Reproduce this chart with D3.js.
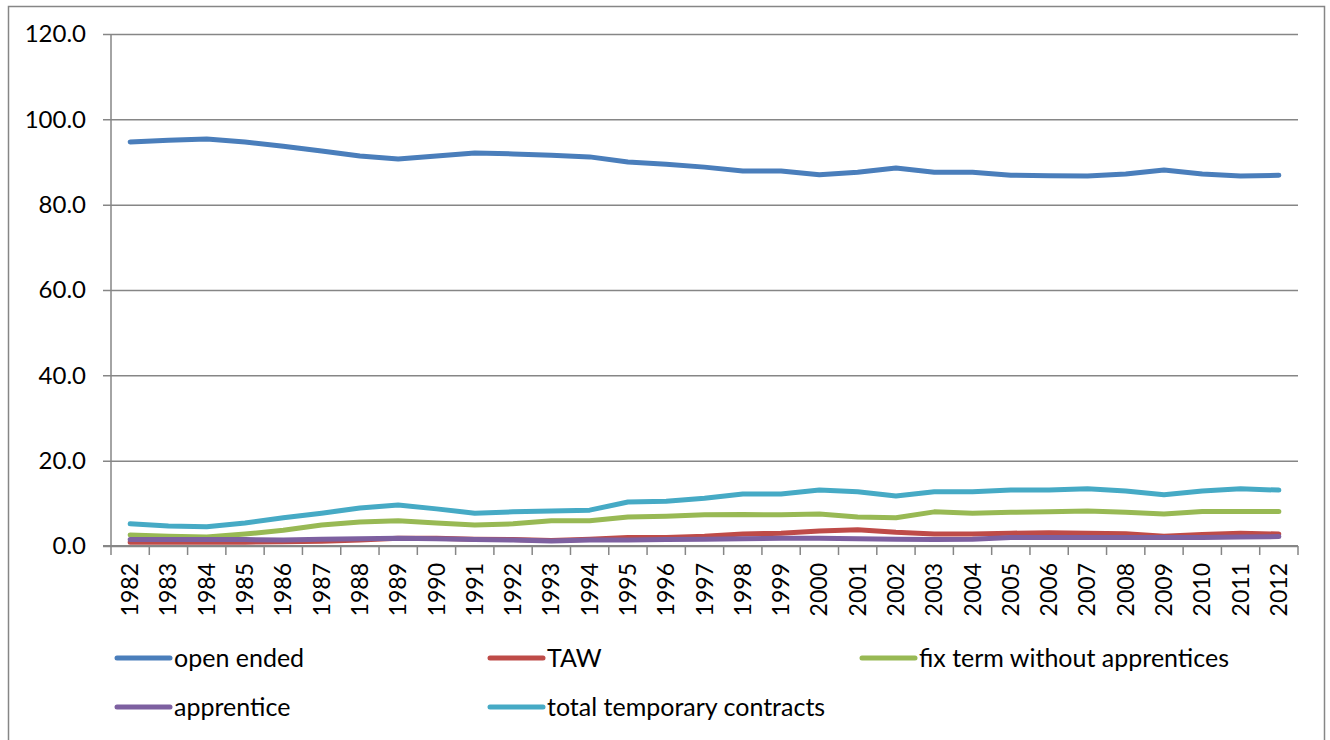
<!DOCTYPE html>
<html>
<head>
<meta charset="utf-8">
<script src="https://cdn.jsdelivr.net/npm/d3@7"></script>
<style>
  body { margin: 0; background: #fff; }
  svg text { font-family: Lato, "Liberation Sans", sans-serif; fill: #000; }
</style>
</head>
<body>
<div id="chart"></div>
<script>
// Data
const years = [1982, 1983, 1984, 1985, 1986, 1987, 1988, 1989, 1990, 1991, 1992, 1993, 1994, 1995, 1996,
               1997, 1998, 1999, 2000, 2001, 2002, 2003, 2004, 2005, 2006, 2007, 2008, 2009, 2010, 2011, 2012]

const openEnded = [94.7, 95.1, 95.4, 94.7, 93.7, 92.6, 91.4, 90.7, 91.4, 92.1, 91.9, 91.6, 91.2, 90.0, 89.5,
                   88.8, 87.9, 87.9, 87.0, 87.6, 88.6, 87.6, 87.6, 86.9, 86.8, 86.7, 87.2, 88.1, 87.2, 86.7, 86.9]
const taw = [0.9, 0.9, 0.9, 0.9, 1.0, 1.1, 1.4, 1.8, 1.8, 1.6, 1.5, 1.3, 1.6, 2.0, 2.0,
             2.3, 2.8, 3.0, 3.5, 3.8, 3.2, 2.8, 2.8, 3.0, 3.1, 3.0, 2.9, 2.3, 2.7, 3.0, 2.8]
const fixTerm = [2.6, 2.3, 2.1, 2.8, 3.7, 4.9, 5.6, 5.9, 5.4, 4.9, 5.2, 5.9, 5.9, 6.8, 7.0,
                 7.3, 7.4, 7.3, 7.5, 6.8, 6.6, 8.0, 7.7, 7.9, 8.0, 8.2, 7.9, 7.5, 8.1, 8.1, 8.1]
const apprentice = [1.5, 1.5, 1.5, 1.5, 1.4, 1.6, 1.7, 1.8, 1.7, 1.5, 1.4, 1.2, 1.4, 1.4, 1.5,
                    1.6, 1.7, 1.8, 1.8, 1.7, 1.6, 1.5, 1.6, 2.0, 2.0, 2.0, 2.0, 2.0, 2.0, 2.1, 2.2]
const totalTemp = [5.2, 4.7, 4.5, 5.4, 6.6, 7.7, 8.9, 9.6, 8.7, 7.7, 8.0, 8.2, 8.4, 10.3, 10.5,
                   11.2, 12.2, 12.2, 13.1, 12.7, 11.7, 12.7, 12.7, 13.1, 13.1, 13.4, 12.9, 12.0, 12.9, 13.4, 13.1]

const seriesNames = ["open ended", "TAW", "fix term without apprentices", "apprentice", "total temporary contracts"]
const seriesColors = ["#4a7ebb", "#be4b48", "#98b954", "#7d60a0", "#46aac5"]
const yTicks = [0, 20, 40, 60, 80, 100, 120]

const series = [openEnded, taw, fixTerm, apprentice, totalTemp].map((v, i) => ({
    name: seriesNames[i], color: seriesColors[i], values: v
}))

width = 1330
height = 740
margin = {left: 111, right: 32, top: 34, bottom: 194}

svg = d3.select("#chart")
        .append("svg")
        .attr("width", width)
        .attr("height", height)

// chart border
svg.append("rect")
    .attr("x", 8.5).attr("y", 6.5)
    .attr("width", 1316).attr("height", 760)
    .attr("fill", "none")
    .attr("stroke", "#868686")
    .attr("stroke-width", 1.5)

x = d3.scaleBand()
    .domain(years)
    .range([margin.left, width - margin.right])

y = d3.scaleLinear()
    .domain([0, 120])
    .range([height - margin.bottom, margin.top])

// gridlines + y axis
yAxis = svg.append("g")
    .attr("transform", `translate(${margin.left},0)`)
    .call(d3.axisLeft(y).tickValues(yTicks).tickFormat(d3.format(".1f"))
        .tickSize(-(width - margin.left - margin.right)).tickSizeOuter(0))
yAxis.select(".domain").remove()
yAxis.selectAll(".tick line")
    .attr("x1", -8)
    .attr("stroke", "#868686")
    .attr("stroke-width", 1.5)
yAxis.selectAll(".tick text")
    .attr("x", -25)
    .attr("font-size", 24)

svg.append("line")
    .attr("x1", margin.left).attr("x2", margin.left)
    .attr("y1", margin.top).attr("y2", y(0))
    .attr("stroke", "#868686")
    .attr("stroke-width", 1.5)

// x axis with ticks between categories
xAxis = svg.append("g")
    .attr("transform", `translate(0,${y(0)})`)
svg.append("line")
    .attr("x1", margin.left - 8).attr("x2", width - margin.right)
    .attr("y1", y(0)).attr("y2", y(0))
    .attr("stroke", "#868686")
    .attr("stroke-width", 2)

bounds = years.map(d => x(d)).concat([width - margin.right])
xAxis.selectAll("line.tk")
    .data(bounds)
    .join("line")
    .attr("class", "tk")
    .attr("x1", d => d).attr("x2", d => d)
    .attr("y1", 0).attr("y2", 9)
    .attr("stroke", "#868686")
    .attr("stroke-width", 1.5)

xAxis.selectAll("text")
    .data(years)
    .join("text")
    .attr("transform", d => `translate(${x(d) + x.bandwidth() / 2},17) rotate(-90)`)
    .attr("text-anchor", "end")
    .attr("dy", "0.35em")
    .attr("font-size", 23)
    .text(d => d)

// lines
line = d3.line()
    .x((d, i) => x(years[i]) + x.bandwidth() / 2)
    .y(d => y(d))

svg.append("g")
    .selectAll("path")
    .data(series)
    .join("path")
    .attr("d", d => line(d.values))
    .attr("fill", "none")
    .attr("stroke", d => d.color)
    .attr("stroke-width", 5)
    .attr("stroke-linejoin", "round")
    .attr("stroke-linecap", "round")

// legend
legendPos = [[117, 658], [490, 658], [862, 658], [117, 707], [490, 707]]
legend = svg.append("g")
    .selectAll("g")
    .data(series)
    .join("g")
    .attr("transform", (d, i) => `translate(${legendPos[i][0]},${legendPos[i][1]})`)
legend.append("line")
    .attr("x1", 0).attr("x2", 53)
    .attr("stroke", d => d.color)
    .attr("stroke-width", 5)
    .attr("stroke-linecap", "round")
legend.append("text")
    .attr("x", 57)
    .attr("dy", "0.35em")
    .attr("font-size", 25)
    .text(d => d.name)
</script>
</body>
</html>
